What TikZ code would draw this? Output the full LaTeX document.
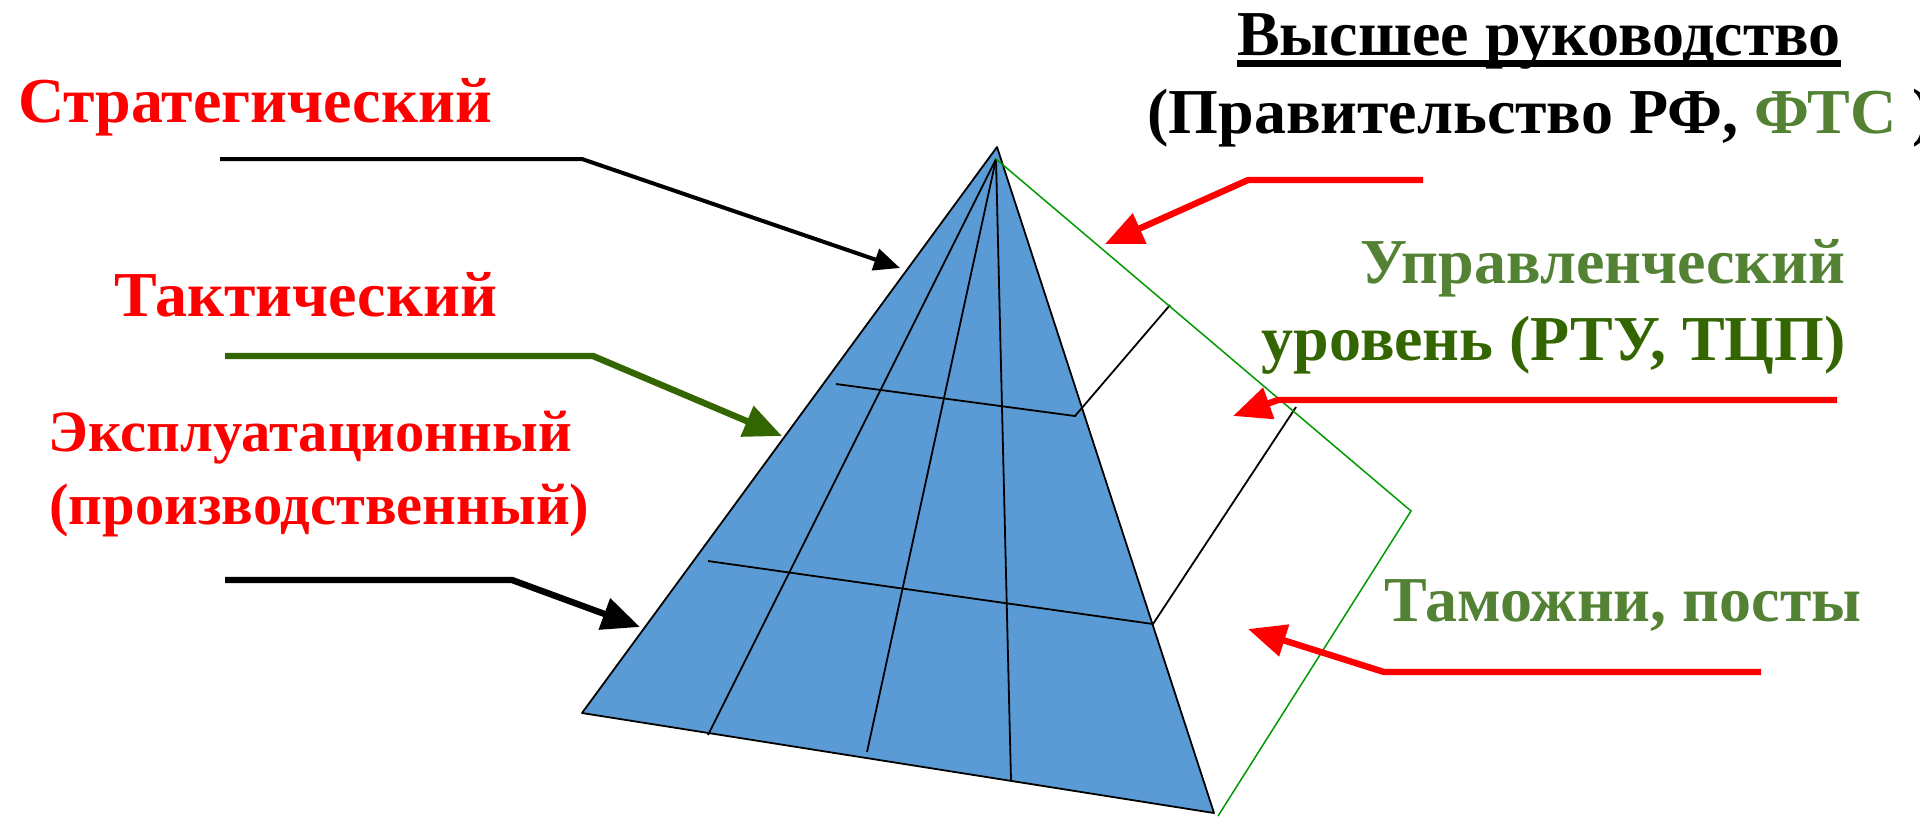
\documentclass[tikz,border=0pt]{standalone}
\usepackage{fontspec}
\setmainfont{Liberation Serif}
\usetikzlibrary{arrows.meta,calc}
\usepackage{tkz-euclide}
\definecolor{PyrClr}{HTML}{5B9BD5}
\definecolor{EdgeClr}{HTML}{009900}
\definecolor{TextGrn}{HTML}{548235}
\definecolor{DarkGrn}{HTML}{336600}

\begin{document}
\begin{tikzpicture}[x=0.5pt,y=-0.5pt,
  lbl/.style={font=\bfseries\fontsize{32}{36}\selectfont,inner sep=0pt},
  lblsm/.style={font=\bfseries\fontsize{29.3}{36}\selectfont,inner sep=0pt},
  lead/.style={line width=2pt,-{Triangle[length=13pt,width=11pt]}},
  leadbig/.style={line width=3.2pt,-{Triangle[length=19pt,width=16pt]}}]
\useasboundingbox (0,0) rectangle (1920,816);

\tkzDefPoint(997,147){A}
\tkzDefPoint(582,713){B}
\tkzDefPoint(1214,813){C}
\tkzDefPoint(996,159){O}
\tkzDefPoint(1411,511){E}
\tkzDefPoint(1218,816){F}

% fan feet
\tkzDefPoint(708,735){P}
\tkzDefPoint(867,752){Q}
\tkzDefPoint(1011,781){R}

% cross lines
\tkzDefPoint(836,384){S}
\tkzDefPoint(1075,416){T}
\tkzDefPoint(1170,305){U}
\tkzDefPoint(708,561){V}
\tkzDefPoint(1153,624){W}
\tkzDefPoint(1296,407){X}

\tkzFillPolygon[fill=PyrClr](A,B,C)
\tkzDrawPolygon[line width=0.9pt,color=black](A,B,C)

\draw[line width=0.9pt] (O) -- (P);
\draw[line width=0.9pt] (O) -- (Q);
\draw[line width=0.9pt] (O) -- (R);
\draw[line width=0.9pt] (S) -- (T) -- (U);
\draw[line width=0.9pt] (V) -- (W) -- (X);
\draw[line width=0.75pt,color=EdgeClr] (O) -- (E) -- (F);

% arrows left
\coordinate (a1) at (220,159);
\coordinate (a2) at (582,159);
\coordinate (a3) at (900,268);
\coordinate (b1) at (225,356);
\coordinate (b2) at (593,356);
\coordinate (b3) at (782,436);
\coordinate (c1) at (225,580);
\coordinate (c2) at (512,580);
\coordinate (c3) at (640,627);
\draw[lead] (a1) -- (a2) -- (a3);
\draw[leadbig,color=DarkGrn] (b1) -- (b2) -- (b3);
\draw[leadbig] (c1) -- (c2) -- (c3);

% arrows right
\coordinate (d1) at (1423,180);
\coordinate (d2) at (1248,180);
\coordinate (d3) at (1105,244);
\coordinate (e1) at (1837,400);
\coordinate (e2) at (1278,400);
\coordinate (e3) at (1233,416);
\coordinate (f1) at (1761,672);
\coordinate (f2) at (1384,672);
\coordinate (f3) at (1248,629);
\draw[leadbig,color=red] (d1) -- (d2) -- (d3);
\draw[leadbig,color=red] (e1) -- (e2) -- (e3);
\draw[leadbig,color=red] (f1) -- (f2) -- (f3);

\node[lbl,anchor=base west,text=red] (strat) at (18,122) {Стратегический};
\node[lbl,anchor=base west,text=red] (takt) at (114,316) {Тактический};
\node[lblsm,anchor=base west,text=red] (expl) at (48,451) {Эксплуатационный};
\node[lblsm,anchor=base west,text=red] (proizv) at (49,524) {(производственный)};
\node[lbl,anchor=base] (vyssh) at (1539,55) {Высшее руководство};
\draw[line width=3.5pt] ($(vyssh.base west)+(0,8)$) -- ($(vyssh.base east)+(0,8)$);
\node[lbl,anchor=base west] (prav) at (1147,133) {(Правительство РФ, \textcolor{TextGrn}{ФТС} )};
\node[lbl,anchor=base east,text=TextGrn] (upr) at (1846,283) {Управленческий};
\node[lbl,anchor=base east,text=DarkGrn] (urov) at (1846,360) {уровень (РТУ, ТЦП)};
\node[lbl,anchor=base west,text=TextGrn] (tam) at (1384,621) {Таможни, посты};

\end{tikzpicture}
\end{document}
